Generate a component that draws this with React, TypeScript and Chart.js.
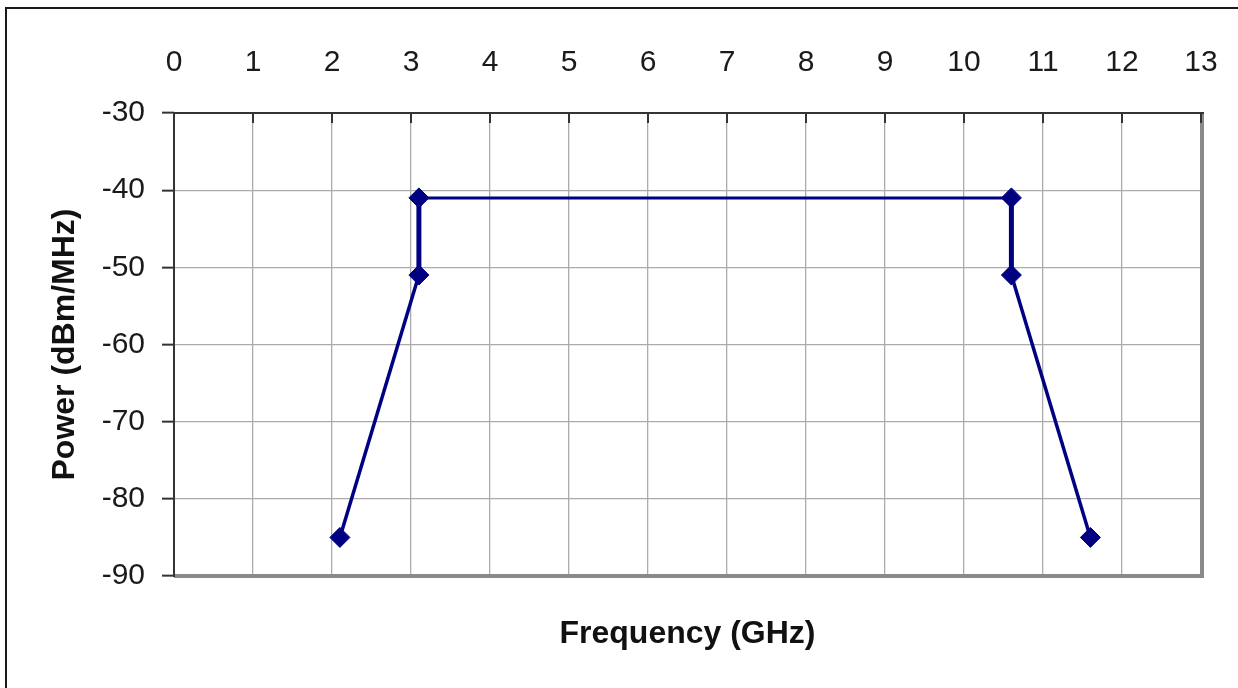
import React, { useEffect, useRef } from "react";
import { Chart, registerables } from "chart.js";

Chart.register(...registerables);

const frequencies = [2.1, 3.1, 3.1, 10.6, 10.6, 11.6];
const powers = [-85, -51, -41, -41, -51, -85];
const xTitle = "Frequency (GHz)";
const yTitle = "Power (dBm/MHz)";
const xRange = [0, 13];
const yRange = [-90, -30];

const FONT = "'Liberation Sans', Arial, Helvetica, sans-serif";
const NAVY = "#000080";

const framePlugin = {
  id: "framePlugin",
  beforeDraw(chart: any) {
    const { ctx, width, height } = chart;
    ctx.save();
    ctx.fillStyle = "#ffffff";
    ctx.fillRect(0, 0, width, height);
    ctx.strokeStyle = "#1a1a1a";
    ctx.lineWidth = 2;
    ctx.beginPath();
    ctx.moveTo(6, height + 2);
    ctx.lineTo(6, 8);
    ctx.lineTo(width + 2, 8);
    ctx.stroke();
    ctx.restore();
  },
  afterDraw(chart: any) {
    const { ctx, chartArea } = chart;
    const { left, right, top, bottom } = chartArea;
    const xs = chart.scales.x;
    ctx.save();
    ctx.strokeStyle = "#8a8a8a";
    ctx.lineWidth = 4;
    ctx.beginPath();
    ctx.moveTo(right + 1, top);
    ctx.lineTo(right + 1, bottom + 2);
    ctx.moveTo(left, bottom);
    ctx.lineTo(right + 3, bottom);
    ctx.stroke();
    ctx.strokeStyle = "#333333";
    ctx.lineWidth = 2;
    ctx.beginPath();
    ctx.moveTo(left, bottom + 1);
    ctx.lineTo(left, top);
    ctx.lineTo(right + 3, top);
    ctx.stroke();
    ctx.beginPath();
    for (let v = xRange[0] + 1; v <= xRange[1]; v++) {
      const px = xs.getPixelForValue(v);
      ctx.moveTo(px, top);
      ctx.lineTo(px, top + 10);
    }
    ctx.stroke();
    ctx.restore();
  },
};

const zeroPad = (s: any) => {
  s.paddingLeft = 0;
  s.paddingRight = 0;
  s.paddingTop = 0;
  s.paddingBottom = 0;
};

export default function App() {
  const canvasRef = useRef<HTMLCanvasElement | null>(null);

  useEffect(() => {
    if (!canvasRef.current) return;
    const points = frequencies.map((f, i) => ({ x: f, y: powers[i] }));
    const chart = new Chart(canvasRef.current, {
      type: "line",
      data: {
        datasets: [
          {
            data: points,
            borderColor: NAVY,
            backgroundColor: NAVY,
            borderWidth: 3.5,
            pointStyle: "rectRot",
            pointRadius: 10,
            pointBorderWidth: 1,
            pointBackgroundColor: NAVY,
            pointBorderColor: NAVY,
            fill: false,
            tension: 0,
            segment: {
              borderWidth: (c: any) =>
                c.p0.parsed.x === c.p1.parsed.x
                  ? 5
                  : c.p0.parsed.y === c.p1.parsed.y
                  ? 3
                  : 3.5,
            },
          } as any,
        ],
      },
      options: {
        animation: false,
        responsive: true,
        maintainAspectRatio: false,
        layout: { padding: { left: 0, top: 0, right: 37, bottom: 0 } },
        plugins: {
          legend: { display: false },
          tooltip: { enabled: false },
        },
        scales: {
          x: {
            type: "linear",
            position: "top",
            min: xRange[0],
            max: xRange[1],
            afterFit: (s: any) => {
              s.height = 113;
              zeroPad(s);
            },
            ticks: {
              stepSize: 1,
              padding: 32,
              color: "#1a1a1a",
              font: { family: FONT, size: 30 },
            },
            grid: {
              color: "#ababab",
              lineWidth: 1.3,
              drawTicks: false,
            },
            border: { display: false },
          },
          x2: {
            type: "linear",
            axis: "x",
            position: "bottom",
            afterFit: (s: any) => {
              s.height = 112;
              zeroPad(s);
            },
            ticks: { display: false },
            grid: { display: false, drawTicks: false },
            border: { display: false },
            title: {
              display: true,
              text: xTitle,
              color: "#111111",
              font: { family: FONT, size: 32, weight: "bold" },
              padding: { top: 0, bottom: 35 },
            },
          },
          y: {
            type: "linear",
            min: yRange[0],
            max: yRange[1],
            afterFit: (s: any) => {
              s.width = 174;
              zeroPad(s);
            },
            ticks: {
              stepSize: 10,
              padding: 17,
              color: "#1a1a1a",
              font: { family: FONT, size: 30 },
            },
            grid: {
              color: "#ababab",
              lineWidth: 1.3,
              tickLength: 12,
              tickColor: "#333333",
              tickWidth: 2,
            },
            border: { display: false },
            title: {
              display: true,
              text: yTitle,
              color: "#111111",
              font: { family: FONT, size: 32, weight: "bold" },
              padding: { top: 46, bottom: 0 },
            },
          },
        },
      } as any,
      plugins: [framePlugin],
    });
    return () => chart.destroy();
  }, []);

  return (
    <div
      style={{
        position: "absolute",
        left: 0,
        top: 0,
        width: 1238,
        height: 688,
        background: "#fff",
      }}
    >
      <canvas ref={canvasRef} />
    </div>
  );
}
